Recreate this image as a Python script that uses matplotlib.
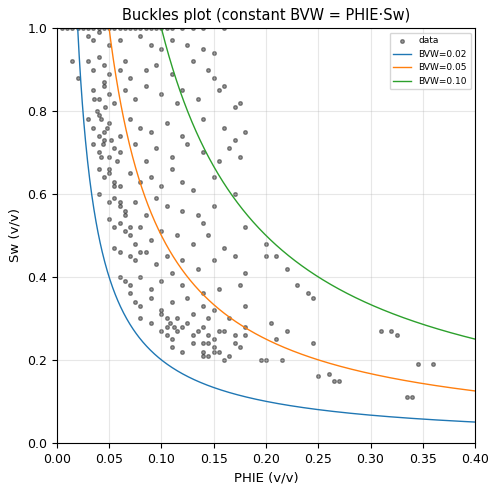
import numpy as np
import matplotlib.pyplot as plt

# points (phie, sw)
phie = [0.005,0.01,0.015,0.02,0.025,0.03,0.035,0.04,0.045,0.05,0.055,0.06,0.065,0.07,0.075,0.08,0.085,0.09,0.095,0.10,0.105,0.11,0.12,0.13,0.14,0.16,
        0.03,0.035,0.04,0.05,0.06,0.08,0.09,0.10,0.11,0.125,0.14,0.15,0.015,0.02,
        0.03,0.035,0.04,0.045,0.05,0.06,0.065,0.07,0.085,0.095,0.11,0.13,0.145,0.15,0.16,
        0.035,0.04,0.045,0.05,0.055,0.065,0.075,0.085,0.10,0.115,0.12,0.135,0.155,0.17,0.175,
        0.03,0.035,0.04,0.045,0.05,0.06,0.07,0.08,0.09,0.105,0.12,0.14,0.16,0.17,0.18,
        0.035,0.04,0.045,0.05,0.055,0.06,0.075,0.085,0.095,0.11,0.125,0.14,0.155,0.165,0.175,
        0.04,0.045,0.05,0.055,0.06,0.07,0.08,0.09,0.10,0.11,0.12,0.13,0.15,0.17,
        0.04,0.05,0.055,0.06,0.065,0.075,0.085,0.095,0.105,0.12,0.135,0.15,0.14,
        0.05,0.055,0.06,0.065,0.07,0.08,0.09,0.10,0.115,0.13,0.145,0.16,
        0.055,0.06,0.07,0.075,0.085,0.095,0.105,0.12,0.135,0.15,0.17,0.18,
        0.06,0.065,0.07,0.08,0.09,0.10,0.11,0.12,0.14,0.155,0.175,
        0.07,0.075,0.08,0.09,0.10,0.11,0.125,0.13,0.14,0.15,0.165,0.18,
        0.08,0.09,0.10,0.105,0.115,0.125,0.135,0.14,0.145,0.155,0.17,0.18,
        0.10,0.105,0.11,0.12,0.13,0.14,0.145,0.15,0.16,0.17,0.18,
        0.11,0.12,0.13,0.14,0.145,0.15,0.155,0.165,0.175,
        0.105,0.108,0.112,0.115,0.14,0.15,0.145,0.16,
        0.038,0.042,0.046,0.04,0.044,0.048,0.036,0.042,0.05,0.045,0.055,0.06,0.052,0.058,0.065,0.07,0.075,0.08,
        0.335,0.34,0.345,0.36,0.31,0.32,0.325,0.265,0.27,0.25,0.26,0.24,0.245,0.23,0.245,0.20,0.215,0.21,0.22,0.205,0.20,0.22,0.20,0.18,0.195,0.21]
sw = [1.0]*26 + \
     [0.98,0.97,0.99,0.96,0.97,0.98,0.96,0.95,0.97,0.96,0.95,0.94,0.92,0.88] + \
     [0.92,0.90,0.93,0.91,0.89,0.9,0.92,0.88,0.9,0.91,0.89,0.92,0.9,0.88,0.86] + \
     [0.85,0.83,0.86,0.84,0.82,0.85,0.83,0.86,0.84,0.82,0.85,0.83,0.85,0.81,0.82] + \
     [0.78,0.76,0.79,0.75,0.77,0.74,0.78,0.76,0.75,0.77,0.74,0.78,0.76,0.73,0.75] + \
     [0.72,0.70,0.73,0.69,0.71,0.7,0.72,0.68,0.71,0.69,0.72,0.70,0.68,0.71,0.69] + \
     [0.66,0.64,0.65,0.63,0.62,0.65,0.63,0.64,0.62,0.66,0.63,0.61,0.64,0.6] + \
     [0.60,0.58,0.59,0.57,0.56,0.58,0.55,0.59,0.57,0.56,0.55,0.57,0.53] + \
     [0.54,0.52,0.53,0.51,0.50,0.52,0.49,0.51,0.5,0.48,0.5,0.47] + \
     [0.47,0.46,0.45,0.44,0.46,0.43,0.45,0.44,0.42,0.44,0.45,0.41] + \
     [0.40,0.39,0.38,0.40,0.37,0.39,0.41,0.38,0.36,0.37,0.38] + \
     [0.36,0.34,0.33,0.35,0.32,0.34,0.35,0.31,0.33,0.32,0.3,0.33] + \
     [0.30,0.29,0.31,0.28,0.30,0.29,0.27,0.28,0.3,0.27,0.26,0.28] + \
     [0.27,0.26,0.25,0.28,0.26,0.24,0.26,0.25,0.27,0.24,0.26] + \
     [0.23,0.22,0.24,0.22,0.21,0.23,0.22,0.21,0.23] + \
     [0.30,0.29,0.28,0.27,0.21,0.22,0.24,0.2] + \
     [0.80,0.78,0.81,0.74,0.72,0.76,0.83,0.69,0.66,0.87,0.62,0.58,0.73,0.68,0.55,0.52,0.48,0.46] + \
     [0.11,0.11,0.19,0.19,0.27,0.27,0.26,0.15,0.15,0.16,0.165,0.36,0.35,0.38,0.24,0.20,0.20,0.25,0.27,0.29,0.45,0.42,0.48,0.52,0.2,0.45]
bvw_values = [0.02, 0.05, 0.10]
colors = ['#1f77b4', '#ff7f0e', '#2ca02c']

fig, ax = plt.subplots(figsize=(4.98, 4.92), dpi=100)
ax.scatter(phie, sw, s=7, c='k', alpha=0.4, label='data')
x = np.linspace(0.001, 0.4, 800)
for b, c in zip(bvw_values, colors):
    ax.plot(x, b / x, color=c, lw=1, label=f'BVW={b:.2f}')
ax.set_xlim(0, 0.4)
ax.set_ylim(0, 1)
ax.set_xlabel('PHIE (v/v)', fontsize=9.5)
ax.set_ylabel('Sw (v/v)', fontsize=9.5)
ax.set_title('Buckles plot (constant BVW = PHIE·Sw)', fontsize=10.5)
ax.tick_params(labelsize=9)
ax.grid(True, alpha=0.3)
ax.legend(loc='upper right', fontsize=6.5)
fig.subplots_adjust(left=0.114, right=0.954, bottom=0.1, top=0.943)
fig.savefig('out.png')
